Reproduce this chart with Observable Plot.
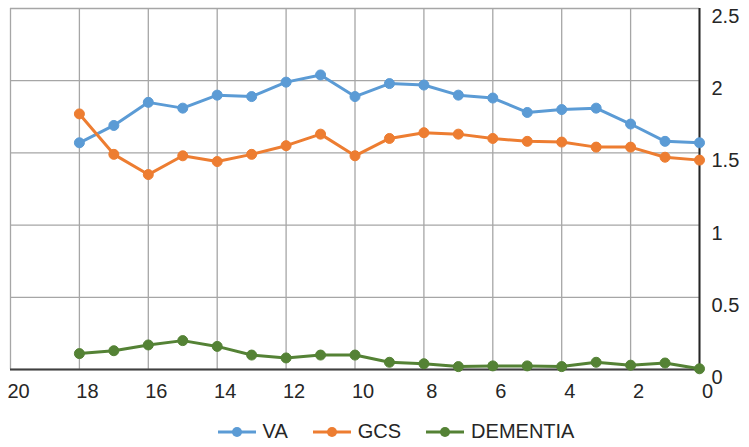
<!DOCTYPE html>
<html>
<head>
<meta charset="utf-8">
<script src="https://cdn.jsdelivr.net/npm/d3@7"></script>
<script src="https://cdn.jsdelivr.net/npm/@observablehq/plot@0.6"></script>
<style>
  html, body { margin: 0; padding: 0; background: #fff; }
  #chart { width: 749px; }
  .legend { display: flex; justify-content: center; align-items: center; gap: 24px;
    font-family: "Liberation Sans", Arial, sans-serif; font-size: 20px; color: #262626;
    margin-left: 42px; margin-top: 12px; }
  .legend span { display: inline-flex; align-items: center; gap: 6px; }
</style>
</head>
<body>
<div id="chart"></div>
<script>
const xValues = [18, 17, 16, 15, 14, 13, 12, 11, 10, 9, 8, 7, 6, 5, 4, 3, 2, 1, 0];
const va = [1.57, 1.69, 1.85, 1.81, 1.90, 1.89, 1.99, 2.04, 1.89, 1.98, 1.97, 1.90, 1.88, 1.78, 1.80, 1.81, 1.70, 1.58, 1.57];
const gcs = [1.77, 1.49, 1.35, 1.48, 1.44, 1.49, 1.55, 1.63, 1.48, 1.60, 1.64, 1.63, 1.60, 1.58, 1.575, 1.54, 1.54, 1.47, 1.45];
const dementia = [0.11, 0.13, 0.17, 0.20, 0.16, 0.10, 0.08, 0.10, 0.10, 0.05, 0.04, 0.02, 0.025, 0.025, 0.02, 0.05, 0.03, 0.045, 0.005];
const seriesNames = ["VA", "GCS", "DEMENTIA"];
const seriesColors = ["#5b9bd5", "#ed7d31", "#548235"];
const xTicks = [20, 18, 16, 14, 12, 10, 8, 6, 4, 2, 0];
const yTicks = [0, 0.5, 1, 1.5, 2, 2.5];

const seriesValues = [va, gcs, dementia];
const data = [];
seriesNames.forEach((name, i) => {
  xValues.forEach((x, j) => data.push({series: name, x, y: seriesValues[i][j]}));
});

const chart = Plot.plot({
  width: 749,
  height: 408,
  marginLeft: 10,
  marginRight: 50,
  marginTop: 8,
  marginBottom: 39,
  style: {fontFamily: "'Liberation Sans', Arial, sans-serif", fontSize: "20px", color: "#262626", background: "#fff", overflow: "visible"},
  x: {domain: [20, 0], axis: null},
  y: {domain: [0, 2.5], axis: null},
  color: {domain: seriesNames, range: seriesColors},
  marks: [
    Plot.gridX(xTicks, {stroke: "#a6a6a6", strokeOpacity: 1, strokeWidth: 1.3}),
    Plot.gridY(yTicks, {stroke: "#a6a6a6", strokeOpacity: 1, strokeWidth: 1.3}),
    Plot.axisX({ticks: xTicks, tickSize: 0, tickPadding: 14, dx: 8, fontSize: 20, tickFormat: d => String(d), label: null}),
    Plot.axisY({anchor: "right", ticks: yTicks, tickSize: 0, tickPadding: 12, dy: 8, fontSize: 20, tickFormat: d => String(d), label: null}),
    Plot.ruleY([0], {stroke: "#404040", strokeWidth: 2}),
    Plot.ruleX([0], {stroke: "#262626", strokeWidth: 2}),
    Plot.line(data, {x: "x", y: "y", z: "series", stroke: "series", strokeWidth: 3}),
    Plot.dot(data, {x: "x", y: "y", fill: "series", stroke: "series", r: 5, strokeWidth: 1})
  ]
});
document.getElementById("chart").appendChild(chart);

const legend = document.createElement("div");
legend.className = "legend";
seriesNames.forEach((name, i) => {
  const item = document.createElement("span");
  item.innerHTML = `<svg width="40" height="12"><line x1="1" y1="6" x2="39" y2="6" stroke="${seriesColors[i]}" stroke-width="3"/><circle cx="20" cy="6" r="5" fill="${seriesColors[i]}"/></svg>${name}`;
  legend.appendChild(item);
});
document.getElementById("chart").appendChild(legend);
</script>
</body>
</html>
